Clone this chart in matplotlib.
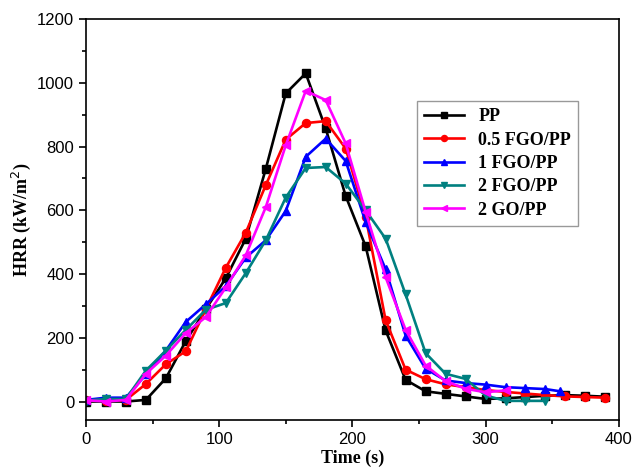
import matplotlib.pyplot as plt

# Données (temps en s, HRR en kW/m2)
t_pp = [0, 15, 30, 45, 60, 75, 90, 105, 120, 135, 150, 165, 180, 195, 210, 225, 240, 255, 270, 285, 300, 315, 330, 345, 360, 375, 390]
hrr_pp = [0, 0, 0, 5, 73, 190, 290, 387, 511, 730, 967, 1030, 857, 645, 487, 223, 68, 32, 24, 16, 8, 10, 14, 18, 20, 18, 15]

t_05fgo = [0, 15, 30, 45, 60, 75, 90, 105, 120, 135, 150, 165, 180, 195, 210, 225, 240, 255, 270, 285, 300, 315, 330, 345, 360, 375, 390]
hrr_05fgo = [5, 2, 5, 55, 117, 158, 290, 420, 530, 679, 822, 874, 880, 794, 580, 255, 100, 70, 54, 45, 36, 30, 25, 20, 16, 14, 12]

t_1fgo = [0, 15, 30, 45, 60, 75, 90, 105, 120, 135, 150, 165, 180, 195, 210, 225, 240, 255, 270, 285, 300, 315, 330, 345, 356]
hrr_1fgo = [5, 12, 12, 85, 160, 250, 305, 362, 452, 506, 598, 768, 825, 755, 563, 415, 207, 103, 66, 58, 53, 45, 42, 39, 32]

t_2fgo = [0, 15, 30, 45, 60, 75, 90, 105, 120, 135, 150, 165, 180, 195, 210, 225, 240, 255, 270, 285, 300, 315, 330, 345]
hrr_2fgo = [3, 8, 8, 97, 160, 225, 288, 309, 403, 506, 640, 733, 736, 684, 600, 511, 336, 152, 87, 71, 19, 2, 2, 2]

t_2go = [0, 15, 30, 45, 60, 75, 90, 105, 120, 135, 150, 165, 180, 195, 210, 225, 240, 255, 270, 285, 300, 315]
hrr_2go = [4, 0, 5, 87, 144, 215, 265, 358, 459, 610, 804, 975, 946, 810, 595, 390, 225, 113, 64, 40, 29, 35]

series = [
    (t_pp, hrr_pp, "PP", "black", "s"),
    (t_05fgo, hrr_05fgo, "0.5 FGO/PP", "red", "o"),
    (t_1fgo, hrr_1fgo, "1 FGO/PP", "blue", "^"),
    (t_2fgo, hrr_2fgo, "2 FGO/PP", "#008080", "v"),
    (t_2go, hrr_2go, "2 GO/PP", "magenta", "<"),
]

fig = plt.figure(figsize=(6.32, 4.68), dpi=100)
ax = fig.add_axes([0.136, 0.1026, 0.843, 0.8564])

for t, y, label, color, marker in series:
    ax.plot(t, y, color=color, marker=marker, markersize=5.8, linewidth=1.9, label=label)

ax.set_xlim(0, 400)
ax.set_ylim(-58, 1200)
ax.set_xticks(range(0, 401, 100))
ax.set_xticks(range(50, 400, 100), minor=True)
ax.set_yticks(range(0, 1201, 200))
ax.set_yticks(range(100, 1200, 200), minor=True)
ax.tick_params(which="both", direction="out", top=False, right=False, width=1.2)
ax.tick_params(which="major", length=5, labelsize=12)
ax.tick_params(which="minor", length=3)
for lab in ax.get_xticklabels() + ax.get_yticklabels():
    lab.set_family("Liberation Sans")
for sp in ax.spines.values():
    sp.set_linewidth(1.2)

ax.set_xlabel("Time (s)", family="Liberation Serif", fontweight="bold", fontsize=13, labelpad=2)
ax.set_ylabel("HRR (kW/m$^2$)", family="Liberation Serif", fontweight="bold", fontsize=13, labelpad=3)

leg = ax.legend(loc="upper left", bbox_to_anchor=(0.621, 0.7955), borderaxespad=0,
                fancybox=False, edgecolor="gray", markerscale=0.75, handlelength=2.2,
                labelspacing=0.35, prop={"family": "Liberation Serif", "weight": "bold", "size": 13})
leg.get_frame().set_linewidth(1.0)

fig.savefig("out.png", dpi=100)
